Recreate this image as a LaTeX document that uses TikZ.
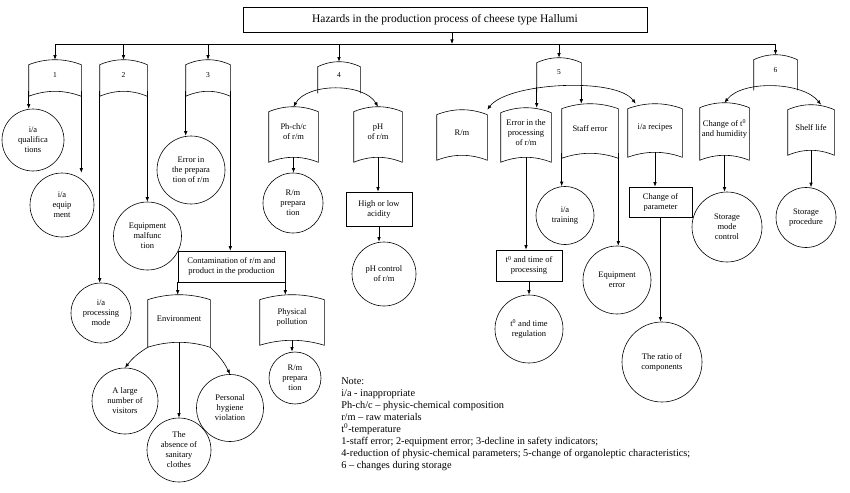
\documentclass[tikz,border=0pt]{standalone}
\usepackage{fontspec}
\setmainfont{Liberation Serif}
\usetikzlibrary{arrows.meta}

% scroll outline round a node: arched top, arched bottom
\newcommand{\scrollbox}[1]{%
  \draw[-] ([yshift=-5pt]#1.north east) parabola bend (#1.north) ([yshift=-5pt]#1.north west)
        -- ([yshift=-5pt]#1.south west) parabola bend (#1.south) ([yshift=-5pt]#1.south east) -- cycle;}
% same, open at the bottom
\newcommand{\scrollopen}[1]{%
  \draw[-] ([yshift=-5pt]#1.south west) -- ([yshift=-5pt]#1.north west) parabola bend (#1.north)
        ([yshift=-5pt]#1.north east) -- ([yshift=-5pt]#1.south east);}

\begin{document}
\begin{tikzpicture}[->,>={Latex[length=4.5pt,width=3.5pt]},x=1pt,y=-1pt,line width=0.6pt,
   circ/.style={circle,draw,inner sep=0pt,minimum size=#1,align=center,font=\fontsize{8.5}{10}\selectfont},
   box/.style={rectangle,draw,inner sep=1pt,align=center,font=\fontsize{8.5}{10}\selectfont},
   scroll/.style={rectangle,inner sep=0pt,align=center,font=\fontsize{8.5}{10}\selectfont},
   num/.style={scroll,font=\fontsize{7.5}{9}\selectfont},
   note/.style={inner sep=0pt,align=left,font=\fontsize{10.3}{12}\selectfont}]

   \useasboundingbox[fill=white] (0,0) rectangle (850,492);

   % Title and the six groups
      \node[box,minimum width=404pt,minimum height=25pt,font=\fontsize{11.5}{13}\selectfont] (title) at (445,19.5) {Hazards in the production process of cheese type Hallumi};
      \coordinate (bus) at (452,44);
      \node[num,minimum width=52pt,minimum height=31pt] (s1) at (55,75.5)    {1};
      \node[num,minimum width=47pt,minimum height=31pt] (s2) at (123.5,75.5) {2};
      \node[num,minimum width=44pt,minimum height=31pt] (s3) at (208,75.5)   {3};
      \node[num,minimum width=42pt,minimum height=26pt] (s4) at (339,75)     {4};
      \node[num,minimum width=44pt,minimum height=29pt] (s5) at (559,72.5)   {5};
      \node[num,minimum width=43pt,minimum height=30pt] (s6) at (775.5,70)   {6};

   % Groups 1-3
      \node[circ=62] (qual)  at (33,140)    {i/a\\qualifica\\tions};
      \node[circ=64] (equip) at (62,205)    {i/a\\equip\\ment};
      \node[circ=60] (pmode) at (101,313)   {i/a\\processing\\mode};
      \node[circ=68] (malf)  at (147.5,236) {Equipment\\malfunc\\tion};
      \node[circ=68] (err3)  at (191,170)   {Error in\\the prepara\\tion of r/m};
      \node[box,minimum width=107pt,minimum height=31pt] (contam) at (231.5,266.5) {Contamination of r/m and\\product in the production};
      \node[scroll,minimum width=62pt,minimum height=47pt] (env)  at (179,318.5) {Environment};
      \node[scroll,minimum width=64pt,minimum height=45pt] (phys) at (292,317.5) {Physical\\pollution};
      \node[circ=52] (rm2)   at (295,378)   {R/m\\prepara\\tion};
      \node[circ=66] (visit) at (125,401)   {A large\\number of\\visitors};
      \node[circ=64] (sanit) at (179,450)   {The\\absence of\\sanitary\\clothes};
      \node[circ=67] (hyg)   at (230,408)   {Personal\\hygiene\\violation};

   % Group 4
      \node[scroll,minimum width=49pt,minimum height=50pt] (ph)  at (293.5,132) {Ph-ch/c\\of r/m};
      \node[scroll,minimum width=48pt,minimum height=50pt] (phh) at (378,132)   {pH\\of r/m};
      \node[circ=60] (rm1) at (293,203) {R/m\\prepara\\tion};
      \node[box,minimum width=66pt,minimum height=34pt] (acid) at (379,209) {High or low\\acidity};
      \node[circ=64] (phc) at (384,274) {pH control\\of r/m};

   % Group 5
      \node[scroll,minimum width=50pt,minimum height=45pt] (rm)    at (462,132.5) {R/m};
      \node[scroll,minimum width=50pt,minimum height=49pt] (errp)  at (526,132.5) {Error in the\\processing\\of r/m};
      \node[scroll,minimum width=56pt,minimum height=49pt] (staff) at (590,128.5) {Staff error};
      \node[scroll,minimum width=54pt,minimum height=48pt] (rec)   at (655,128)   {i/a recipes};
      \node[box,minimum width=66pt,minimum height=31pt] (tproc) at (529,265.5) {t\textsuperscript{0} and time of\\processing};
      \node[circ=68] (treg)  at (529,329)   {t\textsuperscript{0} and time\\regulation};
      \node[circ=58] (train) at (565,215.5) {i/a\\training};
      \node[circ=68] (eqerr) at (617,280)   {Equipment\\error};
      \node[box,minimum width=63pt,minimum height=30pt] (chpar) at (660.5,202) {Change  of\\parameter};
      \node[circ=80] (ratio) at (662,362)   {The ratio of\\components};

   % Group 6
      \node[scroll,minimum width=49pt,minimum height=52pt] (cth)   at (724.5,129) {Change of t\textsuperscript{0}\\and humidity};
      \node[scroll,minimum width=46pt,minimum height=45pt] (shelf) at (811,127.5) {Shelf life};
      \node[circ=70] (smc)   at (727,227)   {Storage\\mode\\control};
      \node[circ=60] (sproc) at (806,217.5) {Storage\\procedure};

   % Note
      \node[note,anchor=north west] (legend) at (341,377) {Note:\\
         i/a - inappropriate\\
         Ph-ch/c – physic-chemical composition\\
         r/m – raw materials\\
         t\textsuperscript{0}-temperature\\
         1-staff error; 2-equipment error; 3-decline in safety indicators;\\
         4-reduction of physic-chemical parameters; 5-change of organoleptic characteristics;\\
         6 – changes during storage};

   % Outlines
      \scrollbox{s1} \scrollbox{s2} \scrollbox{s3}
      \scrollopen{s4} \scrollopen{s5} \scrollopen{s6}
      \scrollbox{env} \scrollbox{phys} \scrollbox{ph} \scrollbox{phh}
      \scrollbox{rm} \scrollbox{errp} \scrollbox{staff} \scrollbox{rec}
      \scrollbox{cth} \scrollbox{shelf}

   % Paths
      \path ([xshift=7pt]title.south) edge (bus);
      \draw[-] (s1.north |- bus) -- (s6.north |- bus);
      \path (s1.north |- bus) edge (s1.north);
      \path (s2.north |- bus) edge (s2.north);
      \path (s3.north |- bus) edge (s3.north);
      \path (s4.north |- bus) edge (s4.north);
      \path (s5.north |- bus) edge (s5.north);
      \path (s6.north |- bus) edge (s6.north);

      \path (s1.south west) edge (s1.south west |- qual.north)
            (s1.south east) edge (s1.south east |- equip.north);
      \path (s2.south west) edge (s2.south west |- pmode.north)
            (s2.south east) edge (s2.south east |- malf.north);
      \path (s3.south west) edge (s3.south west |- err3.north)
            (s3.south east) edge (s3.south east |- contam.north);
      \path (contam.south west) edge (contam.south west |- env.north)
            (contam.south east) edge (contam.south east |- phys.north);
      \path ([yshift=-5pt]env.south west) edge [bend right=10] (visit.north)
            (env.south) edge (env.south |- sanit.north)
            ([yshift=-5pt]env.south east) edge [bend left=10] (hyg.north);
      \path (phys.south) edge (phys.south |- rm2.north);

      \draw[<->] (ph.north) .. controls +(14,-24) and +(-14,-24) .. (phh.north);
      \path (ph.south) edge (ph.south |- rm1.north);
      \path (phh.south) edge (phh.south |- acid.north);
      \path (acid.south) edge (acid.south |- phc.north);

      \draw[<->] (rm.north east) .. controls +(20,-27) and +(-20,-27) .. ([xshift=8pt]rec.north west);
      \path (s5.south west) edge (s5.south west |- errp.north)
            (s5.south east) edge (s5.south east |- staff.north);
      \path (errp.south) edge (errp.south |- tproc.north);
      \path (tproc.south) edge (tproc.south |- treg.north);
      \path (staff.south west) edge (staff.south west |- train.north)
            (staff.south east) edge (staff.south east |- eqerr.north);
      \path (rec.south) edge (rec.south |- chpar.north);
      \path (chpar.south) edge (chpar.south |- ratio.north);

      \draw[<->] (cth.north) .. controls +(18,-23) and +(-18,-23) .. ([xshift=10pt]shelf.north);
      \path (cth.south) edge (cth.south |- smc.north);
      \path (shelf.south) edge (shelf.south |- sproc.north);
\end{tikzpicture}
\end{document}
